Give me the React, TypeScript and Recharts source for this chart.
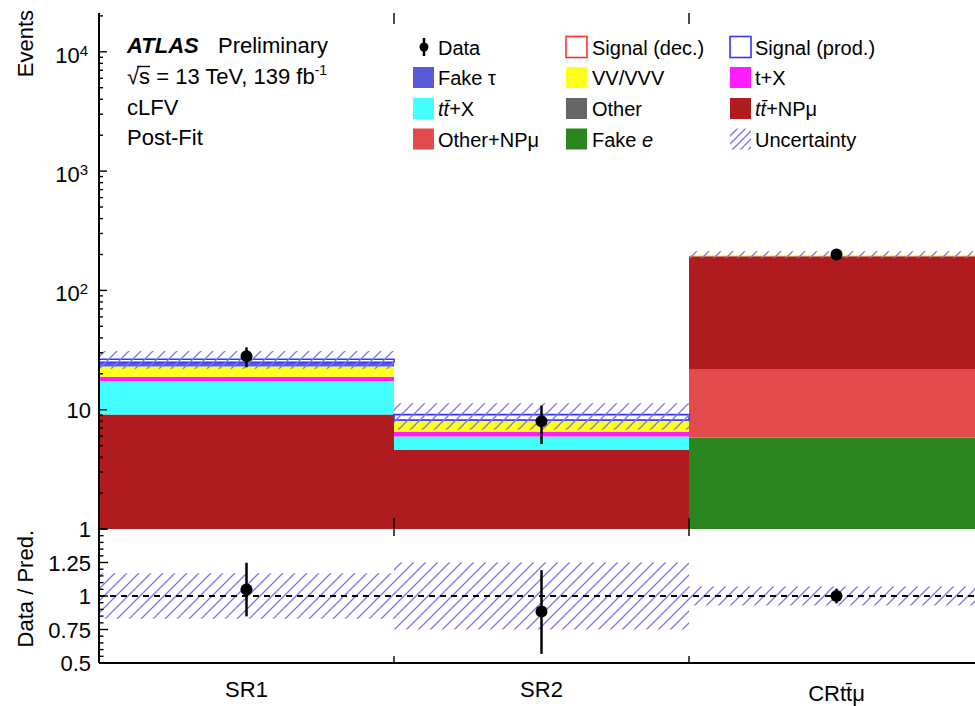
import React from 'react';
import { ComposedChart, Bar, Line, XAxis, YAxis, ErrorBar, ReferenceLine } from 'recharts';

// ---------------- data ----------------
const categories = ['SR1', 'SR2', 'CRtt\u0304\u03bc'];

const fakeE = [0, 0, 5.85];
const otherNP = [0, 0, 16.1];
const other = [0, 0, 0];
const ttNP = [9.1, 4.6, 171];
const ttX = [8.2, 1.35, 0];
const tX = [1.6, 0.57, 0];
const vvVVV = [4.1, 1.55, 6];
const fakeTau = [2.0, 0.12, 0];
const sigDec = [0, 0, 0];
const sigProd = [1.5, 0.9, 0];

const dataVals = [28, 8, 200];
const dataErrLo = [5.3, 2.85, 14];
const dataErrHi = [5.3, 2.85, 14];

const uncLo = [22.0, 6.8, 186];
const uncHi = [31.0, 11.3, 213];

const ratioVals = [1.048, 0.885, 1.0];
const ratioErrLo = [0.2, 0.317, 0.055];
const ratioErrHi = [0.2, 0.308, 0.055];
const ratioBandLo = [0.83, 0.75, 0.93];
const ratioBandHi = [1.17, 1.25, 1.07];

const mainTicks = [
  1, 2, 3, 4, 5, 6, 7, 8, 9,
  10, 20, 30, 40, 50, 60, 70, 80, 90,
  100, 200, 300, 400, 500, 600, 700, 800, 900,
  1000, 2000, 3000, 4000, 5000, 6000, 7000, 8000, 9000,
  10000, 20000,
];
const mainMajor = [1, 10, 100, 1000, 10000];

const ratioTicks = [
  0.5, 0.55, 0.6, 0.65, 0.7, 0.75, 0.8, 0.85, 0.9, 0.95,
  1.0, 1.05, 1.1, 1.15, 1.2, 1.25, 1.3, 1.35, 1.4, 1.45, 1.5,
];
const ratioMajor = [0.5, 0.75, 1.0, 1.25, 1.5];
const ratioLabels = ['0.5', '0.75', '1', '1.25'];

// ---------------- styles ----------------
const FONT = '"Liberation Sans", Arial, Helvetica, sans-serif';
const COL = {
  fakeE: '#2a851f',
  otherNP: '#e34a4b',
  other: '#666666',
  ttNP: '#b01b1f',
  ttX: '#44ffff',
  tX: '#ff1cff',
  vv: '#ffff1a',
  fakeTau: '#5a5ad8',
  sigDec: '#ff3030',
  sigProd: '#3535ff',
  hatch: '#7474ff',
};

const stackOrder = [
  { id: 'fakeE', vals: fakeE, fill: COL.fakeE, stroke: 'none' },
  { id: 'otherNP', vals: otherNP, fill: COL.otherNP, stroke: 'none' },
  { id: 'other', vals: other, fill: COL.other, stroke: 'none' },
  { id: 'ttNP', vals: ttNP, fill: COL.ttNP, stroke: 'none' },
  { id: 'ttX', vals: ttX, fill: COL.ttX, stroke: 'none' },
  { id: 'tX', vals: tX, fill: COL.tX, stroke: 'none' },
  { id: 'vv', vals: vvVVV, fill: COL.vv, stroke: 'none' },
  { id: 'fakeTau', vals: fakeTau, fill: COL.fakeTau, stroke: 'none' },
  { id: 'sigDec', vals: sigDec, fill: 'none', stroke: COL.sigDec },
  { id: 'sigProd', vals: sigProd, fill: 'none', stroke: COL.sigProd },
];

const mainRows = categories.map((cat, i) => {
  const row: any = { cat };
  let cum = 0;
  stackOrder.forEach((s) => {
    const lo = cum;
    cum += s.vals[i];
    row[s.id] = s.vals[i] > 0 ? [Math.max(lo, 1), Math.max(cum, 1)] : null;
  });
  row.unc = [uncLo[i], uncHi[i]];
  row.data = dataVals[i];
  row.dataErr = [dataErrLo[i], dataErrHi[i]];
  return row;
});

const ratioRows = categories.map((cat, i) => ({
  cat,
  band: [ratioBandLo[i], ratioBandHi[i]],
  ratio: ratioVals[i],
  ratioErr: [ratioErrLo[i], ratioErrHi[i]],
}));

// ---------------- ticks ----------------
const MainYTick = (props: any) => {
  const { x, y, payload } = props;
  const v = payload.value;
  const isMajor = mainMajor.some((m) => Math.abs(m - v) < 1e-9);
  const exp = Math.round(Math.log10(v));
  let label: any = null;
  if (isMajor) {
    if (exp === 0 || exp === 1) {
      label = (
        <text x={x - 8} y={y + 8} textAnchor="end" fontSize={22} fontFamily={FONT} fill="#000">
          {exp === 0 ? '1' : '10'}
        </text>
      );
    } else {
      label = (
        <text x={x - 11} y={y + 11} textAnchor="end" fontSize={22} fontFamily={FONT} fill="#000">
          10
          <tspan fontSize={15} dy={-7}>{String(exp)}</tspan>
        </text>
      );
    }
  }
  return (
    <g>
      <line x1={x} x2={x + (isMajor ? 8 : 4)} y1={y} y2={y} stroke="#000" strokeWidth={1.4} />
      {label}
    </g>
  );
};

const RatioYTick = (props: any) => {
  const { x, y, payload } = props;
  const v = payload.value;
  const mi = ratioMajor.findIndex((m) => Math.abs(m - v) < 1e-9);
  const isMajor = mi >= 0;
  return (
    <g>
      <line x1={x} x2={x + (isMajor ? 9 : 4.5)} y1={y} y2={y} stroke="#000" strokeWidth={1.4} />
      {isMajor && mi < ratioLabels.length ? (
        <text x={x - 8} y={y + 8} textAnchor="end" fontSize={22} fontFamily={FONT} fill="#000">
          {ratioLabels[mi]}
        </text>
      ) : null}
    </g>
  );
};

const XLabelTick = (props: any) => {
  const { x, y, payload, index } = props;
  return (
    <text x={x} y={y + (index === 2 ? 38 : 34)} textAnchor="middle" fontSize={22} fontFamily={FONT} fill="#000">
      {payload.value}
    </text>
  );
};

// ---------------- overlay (ATLAS label, legend, axis titles) ----------------
const Box = ({ x, y, fill, stroke }: any) => (
  <rect x={x} y={y - 10.5} width={21} height={21} fill={fill} stroke={stroke || 'none'} strokeWidth={1.6} />
);

const Overlay = () => {
  const rows = [47, 77.5, 108.5, 139];
  const c1 = 413, c2 = 566, c3 = 730;
  const t1 = 438, t2 = 592, t3 = 755;
  const txt = (x: number, cy: number, content: any) => (
    <text x={x} y={cy + 7.5} fontSize={20} fontFamily={FONT} fill="#000">{content}</text>
  );
  return (
    <svg width={975} height={706} style={{ position: 'absolute', left: 0, top: 0, pointerEvents: 'none' }}>
      <defs>
        <pattern id="hatchLeg" patternUnits="userSpaceOnUse" width="8" height="8" x="730" y="128">
          <path d="M-2,2 L2,-2 M0,8 L8,0 M6,10 L10,6" stroke={COL.hatch} strokeWidth={1.4} />
        </pattern>
      </defs>
      {/* axis titles */}
      <text x={33} y={10} transform="rotate(-90, 33, 10)" textAnchor="end" fontSize={22} fontFamily={FONT} fill="#000">Events</text>
      <text x={33} y={530} transform="rotate(-90, 33, 530)" textAnchor="end" fontSize={22} fontFamily={FONT} fill="#000">Data / Pred.</text>

      {/* ATLAS block */}
      <text x={127} y={53} fontSize={22} fontFamily={FONT} fontWeight="bold" fontStyle="italic" fill="#000">ATLAS</text>
      <text x={218} y={53} fontSize={22} fontFamily={FONT} fill="#000">Preliminary</text>
      <text x={127} y={84} fontSize={22} fontFamily={FONT} fill="#000">
        {'\u221As = 13 TeV, 139 fb'}
        <tspan fontSize={14} dy={-9}>-1</tspan>
      </text>
      <line x1={137} x2={150} y1={66.5} y2={66.5} stroke="#000" strokeWidth={1.4} />
      <text x={127} y={115} fontSize={22} fontFamily={FONT} fill="#000">cLFV</text>
      <text x={127} y={145} fontSize={22} fontFamily={FONT} fill="#000">Post-Fit</text>

      {/* legend column 1 */}
      <line x1={424} x2={424} y1={38} y2={56} stroke="#000" strokeWidth={2.5} />
      <circle cx={424} cy={47} r={4.5} fill="#000" />
      {txt(t1, rows[0], 'Data')}
      <Box x={c1} y={rows[1]} fill={COL.fakeTau} />
      {txt(t1, rows[1], 'Fake \u03c4')}
      <Box x={c1} y={rows[2]} fill={COL.ttX} />
      {txt(t1, rows[2], <><tspan fontStyle="italic">{'tt\u0304'}</tspan>{'+X'}</>)}
      <Box x={c1} y={rows[3]} fill={COL.otherNP} />
      {txt(t1, rows[3], 'Other+NP\u03bc')}

      {/* legend column 2 */}
      <Box x={c2} y={rows[0]} fill="#fff" stroke={COL.sigDec} />
      {txt(t2, rows[0], 'Signal (dec.)')}
      <Box x={c2} y={rows[1]} fill={COL.vv} />
      {txt(t2, rows[1], 'VV/VVV')}
      <Box x={c2} y={rows[2]} fill={COL.other} />
      {txt(t2, rows[2], 'Other')}
      <Box x={c2} y={rows[3]} fill={COL.fakeE} />
      {txt(t2, rows[3], <>{'Fake '}<tspan fontStyle="italic">e</tspan></>)}

      {/* legend column 3 */}
      <Box x={c3} y={rows[0]} fill="#fff" stroke={COL.sigProd} />
      {txt(t3, rows[0], 'Signal (prod.)')}
      <Box x={c3} y={rows[1]} fill={COL.tX} />
      {txt(t3, rows[1], 't+X')}
      <Box x={c3} y={rows[2]} fill={COL.ttNP} />
      {txt(t3, rows[2], <><tspan fontStyle="italic">{'tt\u0304'}</tspan>{'+NP\u03bc'}</>)}
      <Box x={c3} y={rows[3]} fill="url(#hatchLeg)" />
      {txt(t3, rows[3], 'Uncertainty')}
    </svg>
  );
};

// ---------------- charts ----------------
const axisLine = { stroke: '#000', strokeWidth: 2 };

const MainChart = () => (
  <ComposedChart
    width={1000}
    height={545}
    data={mainRows}
    margin={{ top: 13, right: 16, bottom: 16, left: 0 }}
    barCategoryGap={0}
    barGap={0}
  >
    <defs>
      <pattern id="hatchMain" patternUnits="userSpaceOnUse" width="12" height="12">
        <path d="M-3,3 L3,-3 M0,12 L12,0 M9,15 L15,9" stroke={COL.hatch} strokeWidth={1.25} />
      </pattern>
    </defs>
    <XAxis xAxisId="a0" dataKey="cat" height={0} tick={false} tickLine={false} axisLine={axisLine} />
    {stackOrder.map((s, k) =>
      k === 0 ? null : <XAxis key={'ax' + s.id} xAxisId={'a' + k} dataKey="cat" hide />
    )}
    <XAxis xAxisId="unc" dataKey="cat" hide />
    <XAxis xAxisId="top" dataKey="cat" orientation="top" height={0} tick={false} tickLine={false} axisLine={axisLine} />
    <YAxis
      type="number"
      scale="log"
      domain={[1, 21150]}
      allowDataOverflow
      ticks={mainTicks}
      interval={0}
      tick={MainYTick}
      tickLine={false}
      tickSize={0}
      tickMargin={0}
      width={99}
      axisLine={axisLine}
    />
    {stackOrder.map((s, k) => (
      <Bar
        key={s.id}
        xAxisId={'a' + k}
        dataKey={s.id}
        fill={s.fill}
        stroke={s.stroke}
        strokeWidth={s.stroke === 'none' ? 0 : 1.6}
        isAnimationActive={false}
      />
    ))}
    <Bar xAxisId="unc" dataKey="unc" fill="url(#hatchMain)" stroke="none" isAnimationActive={false} />
    <ReferenceLine xAxisId="a0" x={categories[0]} position="end" stroke="#000" strokeWidth={1.4} strokeDasharray="11 494 11 600" />
    <ReferenceLine xAxisId="a0" x={categories[1]} position="end" stroke="#000" strokeWidth={1.4} strokeDasharray="11 494 11 600" />
    <Line
      xAxisId="a0"
      dataKey="data"
      stroke="none"
      dot={{ r: 6, fill: '#000', stroke: 'none' }}
      activeDot={false}
      isAnimationActive={false}
    >
      <ErrorBar dataKey="dataErr" width={0} stroke="#000" strokeWidth={2.5} direction="y" />
    </Line>
  </ComposedChart>
);

const RatioChart = () => (
  <ComposedChart
    width={1000}
    height={186}
    data={ratioRows}
    margin={{ top: 9, right: 16, bottom: 0, left: 0 }}
    barCategoryGap={0}
    barGap={0}
  >
    <defs>
      <pattern id="hatchRatio" patternUnits="userSpaceOnUse" width="12" height="12">
        <path d="M-3,3 L3,-3 M0,12 L12,0 M9,15 L15,9" stroke={COL.hatch} strokeWidth={1.25} />
      </pattern>
    </defs>
    <XAxis xAxisId="r0" dataKey="cat" height={43} tick={XLabelTick} tickLine={false} tickSize={0} tickMargin={0} interval={0} axisLine={axisLine} />
    <XAxis xAxisId="rtop" dataKey="cat" orientation="top" height={0} tick={false} tickLine={false} axisLine={axisLine} />
    <YAxis
      type="number"
      domain={[0.5, 1.5]}
      allowDataOverflow
      ticks={ratioTicks}
      interval={0}
      tick={RatioYTick}
      tickLine={false}
      tickSize={0}
      tickMargin={0}
      width={99}
      axisLine={axisLine}
    />
    <Bar xAxisId="r0" dataKey="band" fill="url(#hatchRatio)" stroke="none" isAnimationActive={false} />
    <ReferenceLine xAxisId="r0" y={1} stroke="#000" strokeWidth={2} strokeDasharray="6 5" />
    <ReferenceLine xAxisId="r0" x={categories[0]} position="end" stroke="#000" strokeWidth={1.4} strokeDasharray="7 120 7 200" />
    <ReferenceLine xAxisId="r0" x={categories[1]} position="end" stroke="#000" strokeWidth={1.4} strokeDasharray="7 120 7 200" />
    <Line
      xAxisId="r0"
      dataKey="ratio"
      stroke="none"
      dot={{ r: 6, fill: '#000', stroke: 'none' }}
      activeDot={false}
      isAnimationActive={false}
    >
      <ErrorBar dataKey="ratioErr" width={0} stroke="#000" strokeWidth={2.5} direction="y" />
    </Line>
  </ComposedChart>
);

export default function App() {
  return (
    <div
      style={{
        position: 'absolute',
        left: 0,
        top: 0,
        width: 975,
        height: 706,
        overflow: 'hidden',
        background: '#fff',
        fontFamily: FONT,
      }}
    >
      <div style={{ position: 'absolute', left: 0, top: 0, width: 1000, height: 545 }}>
        <MainChart />
      </div>
      <div style={{ position: 'absolute', left: 0, top: 520, width: 1000, height: 186 }}>
        <RatioChart />
      </div>
      <Overlay />
    </div>
  );
}
